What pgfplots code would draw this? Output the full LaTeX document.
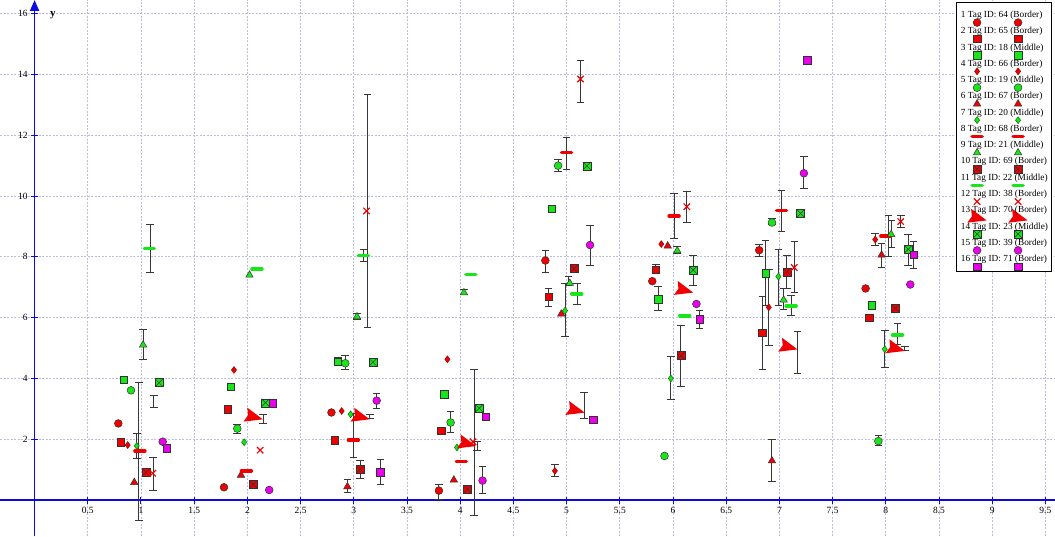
\documentclass[border=0pt]{standalone}
\usepackage{fontspec}
\setmainfont{Liberation Serif}
\usepackage{pgfplots}
\usepackage{pgfplotstable}
\pgfplotsset{compat=1.18}
\usetikzlibrary{arrows.meta}
\definecolor{cR}{RGB}{240,0,0}
\definecolor{cG}{RGB}{25,230,25}
\definecolor{cM}{RGB}{235,0,235}
\definecolor{gridc}{RGB}{188,188,228}
\definecolor{axc}{RGB}{10,10,225}
\definecolor{ebc}{RGB}{55,55,55}
\pgfdeclareplotmark{boxx}{%
  \pgfpathrectangle{\pgfpoint{-\pgfplotmarksize}{-\pgfplotmarksize}}{\pgfpoint{2\pgfplotmarksize}{2\pgfplotmarksize}}%
  \pgfusepathqfillstroke
  \pgfpathmoveto{\pgfpoint{-\pgfplotmarksize}{-\pgfplotmarksize}}%
  \pgfpathlineto{\pgfpoint{\pgfplotmarksize}{\pgfplotmarksize}}%
  \pgfpathmoveto{\pgfpoint{-\pgfplotmarksize}{\pgfplotmarksize}}%
  \pgfpathlineto{\pgfpoint{\pgfplotmarksize}{-\pgfplotmarksize}}%
  \pgfusepathqstroke}
\pgfdeclareplotmark{arrowhd}{%
  \pgfpathmoveto{\pgfpoint{1.1\pgfplotmarksize}{0pt}}%
  \pgfpathlineto{\pgfpoint{-0.9\pgfplotmarksize}{0.8\pgfplotmarksize}}%
  \pgfpathlineto{\pgfpoint{-0.6\pgfplotmarksize}{0pt}}%
  \pgfpathlineto{\pgfpoint{-0.9\pgfplotmarksize}{-0.8\pgfplotmarksize}}%
  \pgfpathclose
  \pgfusepathqfill}
\pgfdeclareplotmark{ecap}{%
  \pgfpathmoveto{\pgfpoint{-3.8bp}{0pt}}%
  \pgfpathlineto{\pgfpoint{3.8bp}{0pt}}%
  \pgfusepathqstroke}
% error bars: x, centre y, half-length e
\pgfplotstableread{
x y e
1.085 8.28 0.80
1.02 5.12 0.49
1.12 3.23 0.20
0.96 1.78 0.41
1.115 0.85 0.54
0.98 1.60 2.26
2.149 2.66 0.15
1.905 2.35 0.15
3.127 9.50 3.83
3.09 8.04 0.20
3.03 6.05 0.10
2.85 4.57 0.12
2.92 4.51 0.23
3.18 4.53 0.10
3.215 3.27 0.25
2.996 2.12 0.73
3.15 2.75 0.08
3.06 1.015 0.30
3.25 0.93 0.41
2.94 0.46 0.20
4.035 6.84 0.08
4.13 1.90 2.40
3.91 2.56 0.35
4.16 1.78 0.14
4.21 0.66 0.44
3.80 0.27 0.25
5.13 13.78 0.69
5.00 11.40 0.53
4.92 11.00 0.20
5.22 8.37 0.65
4.80 7.86 0.36
5.016 7.20 0.15
5.10 6.78 0.35
4.83 6.67 0.29
4.985 6.25 0.88
5.165 3.11 0.42
4.89 0.98 0.20
6.13 9.64 0.52
6.01 9.33 0.74
6.04 8.22 0.12
5.84 7.60 0.15
6.19 7.55 0.48
5.86 6.63 0.38
6.25 5.94 0.29
6.075 4.75 1.00
5.98 4.01 0.70
7.23 10.77 0.52
7.02 9.50 0.68
7.20 9.45 0.10
6.93 9.15 0.10
6.81 8.20 0.20
6.87 7.46 1.07
6.84 5.50 1.19
6.90 6.34 1.24
6.99 7.33 0.92
7.07 7.51 0.55
7.14 7.67 0.83
7.04 6.61 0.34
7.11 6.39 0.33
7.17 4.86 0.69
6.93 1.30 0.70
8.14 9.17 0.20
8.025 8.68 0.67
8.055 8.75 0.45
7.90 8.57 0.20
7.96 8.04 0.40
8.21 8.22 0.52
8.26 8.06 0.45
7.845 6.02 0.10
8.11 5.46 0.35
7.99 4.96 0.61
8.18 4.99 0.07
7.93 1.96 0.15
}\ebtable
\begin{document}
\begin{tikzpicture}
\begin{axis}[
  scale only axis, width=1055bp, height=536bp,
  xmin=-0.325, xmax=9.59, ymin=-1.184, ymax=16.45,
  axis lines=middle,
  axis line style={axc, line width=1.8bp},
  every inner x axis line/.append style={-},
  every inner y axis line/.append style={-{Triangle[width=9bp,length=11bp]}},
  xtick={0.5,1,1.5,2,2.5,3,3.5,4,4.5,5,5.5,6,6.5,7,7.5,8,8.5,9,9.5},
  ytick={2,4,6,8,10,12,14,16},
  grid=major,
  grid style={gridc, line width=0.8bp, dash pattern=on 2bp off 1.5bp},
  tick style={axc, line width=1bp},
  tick align=center, major tick length=7bp,
  tick label style={font=\fontsize{9.5bp}{11bp}\selectfont, black},
  /pgf/number format/assume math mode=true,
  ylabel={\textbf{y}},
  ylabel style={at={(axis description cs:0.0441,0.9701)}, anchor=base west, rotate=0, font=\fontsize{11bp}{12bp}\selectfont},
  clip=false,
  legend image code/.code={%
    \path (0,0);
    \draw[overlay,#1] plot coordinates {(16.7bp,-7.5bp) (57.7bp,-7.5bp)};},
  legend cell align=left,
  legend style={at={(0.9972,0.9963)}, anchor=north east, draw=black, line width=1bp, fill=white,
    font=\fontsize{9.3bp}{11bp}\selectfont,
    nodes={inner sep=0pt, text height=7bp, text depth=2.2bp},
    row sep=7.07bp, column sep=0pt, inner xsep=3.5bp, inner ysep=8bp},
]
% error bars
\addplot[forget plot, draw=none, mark=none,
  error bars/.cd, y dir=both, y explicit, error mark=none,
  error bar style={draw=ebc, line width=1bp}]
  table[x=x, y=y, y error=e] {\ebtable};
\addplot[forget plot, only marks, mark=ecap, mark options={draw=ebc, line width=1bp}]
  table[x=x, y expr=\thisrow{y}+\thisrow{e}] {\ebtable};
\addplot[forget plot, only marks, mark=ecap, mark options={draw=ebc, line width=1bp}]
  table[x=x, y expr=\thisrow{y}-\thisrow{e}] {\ebtable};
% 1 red circle
\addplot[only marks, color=cR, mark=*, mark size=3.9bp, mark options={fill=cR, draw=black!80, line width=0.5bp}]
  coordinates {(0.787,2.52) (1.78,0.42) (2.79,2.88) (3.80,0.31) (4.80,7.88) (5.805,7.20) (6.81,8.22) (7.81,6.96)};
% 2 red square
\addplot[only marks, color=cR, mark=square*, mark size=3.7bp, mark options={fill=cR, draw=black!80, line width=0.5bp}]
  coordinates {(0.81,1.90) (1.815,2.99) (2.82,1.97) (3.82,2.27) (4.83,6.68) (5.84,7.57) (6.84,5.50) (7.845,6.00)};
% 3 green square
\addplot[only marks, color=cG, mark=square*, mark size=3.7bp, mark options={fill=cG, draw=black!80, line width=0.5bp}]
  coordinates {(0.84,3.95) (1.846,3.73) (2.85,4.55) (3.85,3.48) (4.86,9.59) (5.86,6.61) (6.87,7.46) (7.87,6.41)};
% 4 red diamond
\addplot[only marks, color=cR, mark=diamond*, mark size=3.4bp, mark options={fill=cR, draw=red!60!black, line width=0.5bp}]
  coordinates {(0.875,1.81) (1.874,4.28) (2.886,2.93) (3.88,4.63) (4.89,0.96) (5.89,8.42) (6.90,6.34) (7.90,8.57)};
% 5 green circle
\addplot[only marks, color=cG, mark=*, mark size=3.9bp, mark options={fill=cG, draw=black!80, line width=0.5bp}]
  coordinates {(0.906,3.61) (1.905,2.35) (2.92,4.50) (3.91,2.55) (4.92,11.0) (5.92,1.45) (6.93,9.13) (7.93,1.94)};
% 6 red triangle
\addplot[only marks, color=cR, mark=triangle*, mark size=4.3bp, mark options={fill=cR, draw=black!80, line width=0.5bp}]
  coordinates {(0.937,0.58) (1.94,0.82) (2.94,0.44) (3.94,0.66) (4.95,6.12) (5.95,8.36) (6.93,1.29) (7.96,8.06)};
% 7 green diamond
\addplot[only marks, color=cG, mark=diamond*, mark size=3.4bp, mark options={fill=cG, draw=green!45!black, line width=0.5bp}]
  coordinates {(0.96,1.78) (1.97,1.90) (2.97,2.82) (3.97,1.73) (4.985,6.23) (5.98,4.00) (6.99,7.35) (7.99,4.96)};
% 8 red dash
\addplot[only marks, color=cR, mark=-, mark size=5bp, mark options={draw=cR, line width=3.5bp, line cap=round}]
  coordinates {(0.99,1.61) (1.99,0.96) (2.996,1.97) (4.01,1.26) (5.00,11.44) (6.01,9.34) (7.02,9.52) (8.0,8.68)};
% 9 green triangle
\addplot[only marks, color=cG, mark=triangle*, mark size=4.3bp, mark options={fill=cG, draw=black!80, line width=0.5bp}]
  coordinates {(1.02,5.10) (2.02,7.40) (3.03,6.03) (4.035,6.82) (5.03,7.13) (6.04,8.20) (7.04,6.58) (8.05,8.74)};
% 10 red boxed x
\addplot[only marks, color=cR, mark=boxx, mark size=4bp, mark options={fill=cR, draw=black!80, line width=0.5bp}]
  coordinates {(1.047,0.91) (2.055,0.52) (3.06,1.01) (4.07,0.36) (5.07,7.61) (6.075,4.75) (7.07,7.51) (8.09,6.31)};
% 11 green dash
\addplot[only marks, color=cG, mark=-, mark size=5bp, mark options={draw=cG, line width=3.5bp, line cap=round}]
  coordinates {(1.078,8.28) (2.09,7.60) (3.09,8.04) (4.10,7.42) (5.095,6.78) (6.11,6.06) (7.11,6.39) (8.11,5.43)};
% 12 red x
\addplot[only marks, color=cR, mark=x, mark size=4.5bp, mark options={draw=cR, line width=1.2bp}]
  coordinates {(1.11,0.88) (2.12,1.64) (3.12,9.51) (4.12,1.92) (5.13,13.85) (6.13,9.65) (7.14,7.65) (8.14,9.16)};
% 13 red arrowhead
\addplot[only marks, color=cR, mark=arrowhd, mark size=9bp, mark options={fill=cR, draw=none, rotate=-15}]
  coordinates {(2.055,2.74) (3.06,2.74) (4.06,1.86) (5.08,2.96) (6.10,6.91) (7.08,5.04) (8.09,4.99)};
% 14 green boxed x
\addplot[only marks, color=cG, mark=boxx, mark size=4bp, mark options={fill=cG, draw=black!80, line width=0.5bp}]
  coordinates {(1.17,3.86) (2.17,3.20) (3.18,4.53) (4.18,3.02) (5.19,10.99) (6.19,7.57) (7.20,9.43) (8.21,8.25)};
% 15 magenta circle
\addplot[only marks, color=cM, mark=*, mark size=3.9bp, mark options={fill=cM, draw=black!80, line width=0.5bp}]
  coordinates {(1.204,1.92) (2.205,0.33) (3.215,3.27) (4.21,0.64) (5.22,8.39) (6.22,6.45) (7.23,10.75) (8.23,7.09)};
% 16 magenta square
\addplot[only marks, color=cM, mark=square*, mark size=3.7bp, mark options={fill=cM, draw=black!80, line width=0.5bp}]
  coordinates {(1.24,1.70) (2.24,3.18) (3.25,0.91) (4.24,2.74) (5.25,2.65) (6.25,5.95) (7.26,14.47) (8.26,8.06)};
\legend{1 Tag ID: 64 (Border), 2 Tag ID: 65 (Border), 3 Tag ID: 18 (Middle), 4 Tag ID: 66 (Border),
  5 Tag ID: 19 (Middle), 6 Tag ID: 67 (Border), 7 Tag ID: 20 (Middle), 8 Tag ID: 68 (Border),
  9 Tag ID: 21 (Middle), 10 Tag ID: 69 (Border), 11 Tag ID: 22 (Middle), 12 Tag ID: 38 (Border),
  13 Tag ID: 70 (Border), 14 Tag ID: 23 (Middle), 15 Tag ID: 39 (Border), 16 Tag ID: 71 (Border)}
\end{axis}
\pgfresetboundingbox
\useasboundingbox (current axis.south west) rectangle (current axis.north east);
\end{tikzpicture}
\end{document}
